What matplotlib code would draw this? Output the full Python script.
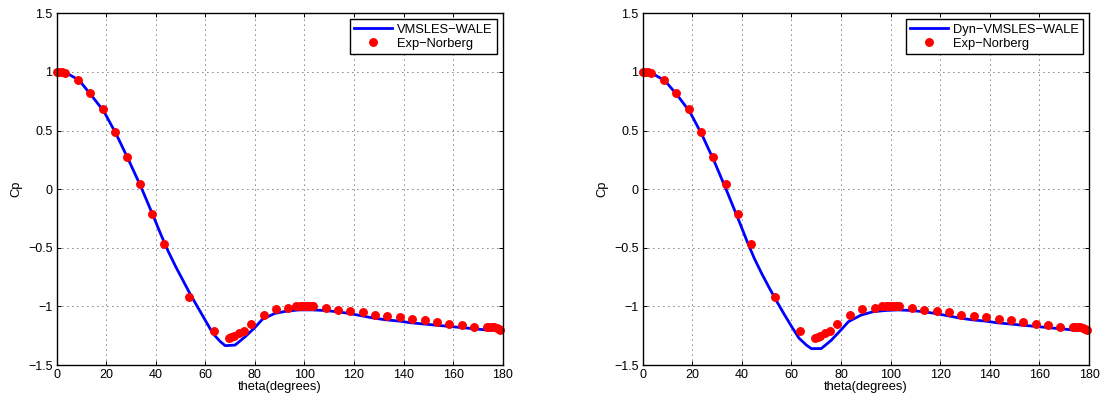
import matplotlib
matplotlib.use("Agg")
import matplotlib.pyplot as plt

plt.rcParams['font.family'] = ['Liberation Sans', 'DejaVu Sans']
plt.rcParams['font.size'] = 9

# Experimental data (Norberg)
exp_theta = [0, 1, 2, 3.5, 8.5, 13.5, 18.5, 23.5, 28.5, 33.5, 38.5, 43.5, 53.5,
             63.5, 69.5, 70.5, 71.5, 73.5, 75.5, 78.5, 83.5, 88.5, 93.5, 96.5,
             98, 99, 100, 101, 102, 103, 103.5, 108.5, 113.5, 118.5, 123.5,
             128.5, 133.5, 138.5, 143.5, 148.5, 153.5, 158.5, 163.5, 168.5,
             173.5, 174.5, 175.5, 176.5, 177.5, 178.5, 179]
exp_cp = [1.0, 1.0, 1.0, 0.99, 0.93, 0.82, 0.68, 0.49, 0.27, 0.04, -0.21, -0.47, -0.92,
          -1.21, -1.27, -1.26, -1.25, -1.23, -1.21, -1.15, -1.07, -1.02, -1.01, -1.0,
          -1.0, -1.0, -1.0, -1.0, -1.0, -1.0, -1.0, -1.01, -1.03, -1.04, -1.05,
          -1.07, -1.08, -1.09, -1.11, -1.12, -1.13, -1.15, -1.16, -1.18,
          -1.18, -1.18, -1.18, -1.18, -1.185, -1.19, -1.2]

# Simulations
sim_theta = [0, 4, 9, 14, 19, 24, 29, 34, 39, 42, 45, 48, 51, 54, 57, 60, 63, 66, 68,
             72, 76, 80, 83, 88, 93, 98, 103, 108, 113, 118, 123, 128, 133, 138, 143,
             148, 153, 158, 163, 168, 173, 179]
sim_left = [1.0, 0.99, 0.93, 0.80, 0.665, 0.47, 0.25, 0.02, -0.23, -0.385, -0.53, -0.66,
            -0.78, -0.90, -1.01, -1.12, -1.23, -1.30, -1.335, -1.33, -1.26, -1.18, -1.11,
            -1.06, -1.04, -1.03, -1.03, -1.035, -1.045, -1.06, -1.08, -1.10, -1.115,
            -1.125, -1.14, -1.15, -1.16, -1.17, -1.18, -1.19, -1.20, -1.205]
sim_right = [1.0, 0.985, 0.925, 0.80, 0.66, 0.46, 0.23, -0.02, -0.28, -0.44, -0.59, -0.72,
             -0.84, -0.955, -1.065, -1.17, -1.27, -1.33, -1.36, -1.36, -1.29, -1.20, -1.13,
             -1.075, -1.045, -1.035, -1.03, -1.035, -1.045, -1.06, -1.08, -1.10, -1.115,
             -1.125, -1.14, -1.15, -1.16, -1.17, -1.18, -1.19, -1.20, -1.205]

labels = ['VMSLES\u2212WALE', 'Dyn\u2212VMSLES\u2212WALE']
exp_label = 'Exp\u2212Norberg'
xticks = [0, 20, 40, 60, 80, 100, 120, 140, 160, 180]
yticks = [-1.5, -1, -0.5, 0, 0.5, 1, 1.5]
ytick_labels = ['\u22121.5', '\u22121', '\u22120.5', '0', '0.5', '1', '1.5']

W, H = 1103, 400
fig = plt.figure(figsize=(W / 100, H / 100), dpi=100)

axes_px = [(56.7, 502.7), (642.7, 1089.0)]
sims = [sim_left, sim_right]

for (x0, x1), sim, lab in zip(axes_px, sims, labels):
    ax = fig.add_axes([x0 / W, (400 - 365) / H, (x1 - x0) / W, (365 - 13.3) / H])
    ax.plot(sim_theta, sim, color='#0000ff', lw=2.0, label=lab)
    ax.plot(exp_theta, exp_cp, 'o', color='#ff0000', ms=5.4, mec='#ff0000',
            label=exp_label, clip_on=False)
    ax.set_xlim(0, 180)
    ax.set_ylim(-1.5, 1.5)
    ax.set_xticks(xticks)
    ax.set_yticks(yticks)
    ax.set_yticklabels(ytick_labels)
    ax.grid(True, color='black', linestyle=(0, (1, 5)), linewidth=0.6)
    ax.tick_params(direction='in', top=True, right=True, length=3, width=0.7,
                   pad=3, labelsize=9)
    for s in ax.spines.values():
        s.set_linewidth(1.0)
    ax.set_xlabel('theta(degrees)', labelpad=0, fontsize=9.3)
    ax.set_ylabel('Cp', labelpad=4, fontsize=9.3)
    leg = ax.legend(loc='upper right', fancybox=False, edgecolor='black',
                    framealpha=1, borderaxespad=0.45, handlelength=2.95,
                    handletextpad=0.35, labelspacing=0.15, borderpad=0.35,
                    fontsize=9.3)
    leg.get_frame().set_linewidth(1.0)

fig.savefig('out.png', dpi=100)
